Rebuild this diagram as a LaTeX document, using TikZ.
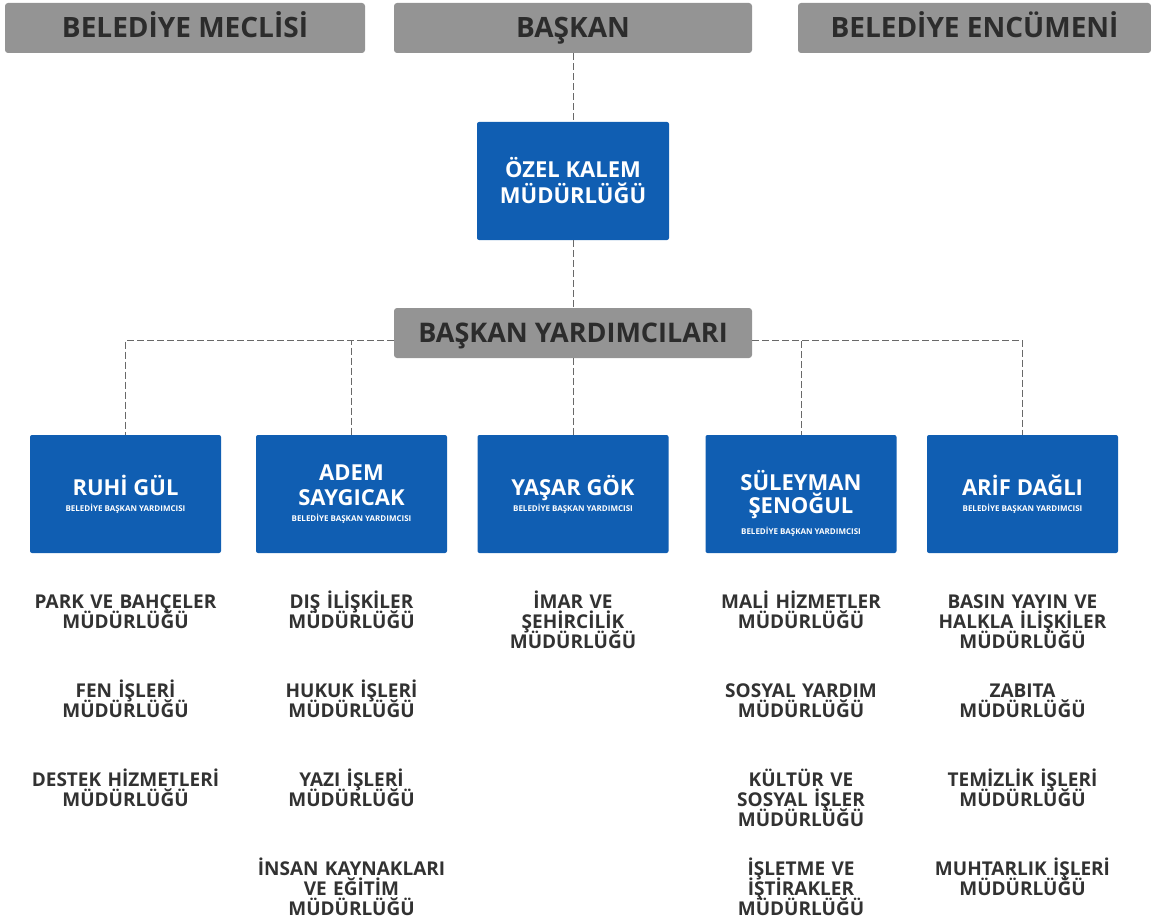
\documentclass[tikz,border=0pt]{standalone}
\usepackage{fontspec}
\setmainfont{Open Sans}
\usepackage{xcolor}
\usepackage{tikz}
\usetikzlibrary{positioning, calc}
\definecolor{BoxBlue}{RGB}{16,94,178}
\definecolor{BarGrey}{RGB}{148,148,148}
\definecolor{BarText}{RGB}{44,44,44}
\definecolor{UnitText}{RGB}{50,50,50}
\definecolor{LinkGrey}{RGB}{105,105,105}
% same first-line height and fixed line spacing for unit names
\newcommand{\unitstrut}{\lineskiplimit=-20pt\relax\vrule width 0pt height 19pt depth 0pt\relax}
\tikzset{
    topbar/.style={rectangle, rounded corners=3pt, fill=BarGrey, text=BarText,
        minimum height=50pt, inner sep=0pt, text height=20pt, text depth=0pt,
        font=\bfseries\fontsize{28}{30}\selectfont},
    deputybox/.style={rectangle, rounded corners=2pt, fill=BoxBlue, text=white,
        minimum width=191pt, minimum height=118pt, inner sep=0pt, align=center,
        font=\bfseries\fontsize{22}{25}\selectfont},
    unitlabel/.style={text width=220pt, align=center, inner sep=0pt, text=UnitText,
        font=\bfseries\fontsize{19}{20}\selectfont,
        execute at begin node=\unitstrut},
    orglink/.style={draw=LinkGrey, line width=0.9pt, dash pattern=on 7pt off 3pt},
}
\newcommand{\deputytitle}[1][-9pt]{\\[#1]\fontsize{8}{9}\selectfont BELEDİYE BAŞKAN YARDIMCISI}

\begin{document}
\begin{tikzpicture}[x=1pt, y=-1pt]
    \useasboundingbox (0,0) rectangle (1151,923);

    % top row
    \node[topbar, minimum width=360pt] (meclis) at (185,28) {BELEDİYE MECLİSİ};
    \node[topbar, minimum width=358pt] (baskan) at (573,28) {BAŞKAN};
    \node[topbar, minimum width=353pt] (encumen) at (974.5,28) {BELEDİYE ENCÜMENİ};

    \node[deputybox, minimum width=192pt, font=\bfseries\fontsize{22}{26}\selectfont] (ozel) at (573,181)
        {ÖZEL KALEM\\MÜDÜRLÜĞÜ};
    \node[topbar, minimum width=358pt, text height=19pt, font=\bfseries\fontsize{27}{29}\selectfont] (yrd) at (573,333)
        {BAŞKAN YARDIMCILARI};

    % deputies
    \node[deputybox] (ruhi) at (125.5,494) {RUHİ GÜL\deputytitle};
    \node[deputybox] (adem) at (351.5,494) {ADEM\\SAYGICAK\deputytitle};
    \node[deputybox] (yasar) at (573,494) {YAŞAR GÖK\deputytitle};
    \node[deputybox, text height=82pt, text depth=2pt] (suleyman) at (801,494)
        {SÜLEYMAN\\[-2pt]ŞENOĞUL\deputytitle[-4pt]};
    \node[deputybox] (arif) at (1022.5,494) {ARİF DAĞLI\deputytitle};

    % links
    \draw[orglink] (baskan) -- (ozel);
    \draw[orglink] (ozel) -- (yrd);
    \draw[orglink] (yrd) -- (yasar);
    \draw[orglink] ([yshift=-7pt]yrd.west) -| (ruhi.north);
    \draw[orglink] ([yshift=-7pt]yrd.west) -| (adem.north);
    \draw[orglink] ([yshift=-7pt]yrd.east) -| (suleyman.north);
    \draw[orglink] ([yshift=-7pt]yrd.east) -| (arif.north);

    % units under RUHİ GÜL
    \node[unitlabel, below=36.5pt of ruhi.south] (park) {PARK VE BAHÇELER\\MÜDÜRLÜĞÜ};
    \node[unitlabel, below=89pt of park.north] (fen) {FEN İŞLERİ\\MÜDÜRLÜĞÜ};
    \node[unitlabel, below=89pt of fen.north] (destek) {DESTEK HİZMETLERİ\\MÜDÜRLÜĞÜ};

    % units under ADEM SAYGICAK
    \node[unitlabel, below=36.5pt of adem.south] (dis) {DIŞ İLİŞKİLER\\MÜDÜRLÜĞÜ};
    \node[unitlabel, below=89pt of dis.north] (hukuk) {HUKUK İŞLERİ\\MÜDÜRLÜĞÜ};
    \node[unitlabel, below=89pt of hukuk.north] (yazi) {YAZI İŞLERİ\\MÜDÜRLÜĞÜ};
    \node[unitlabel, below=89pt of yazi.north] (insan) {İNSAN KAYNAKLARI\\VE EĞİTİM\\MÜDÜRLÜĞÜ};

    % units under YAŞAR GÖK
    \node[unitlabel, below=36.5pt of yasar.south] (imar) {İMAR VE\\ŞEHİRCİLİK\\MÜDÜRLÜĞÜ};

    % units under SÜLEYMAN ŞENOĞUL
    \node[unitlabel, below=36.5pt of suleyman.south] (mali) {MALİ HİZMETLER\\MÜDÜRLÜĞÜ};
    \node[unitlabel, below=89pt of mali.north] (sosyal) {SOSYAL YARDIM\\MÜDÜRLÜĞÜ};
    \node[unitlabel, below=89pt of sosyal.north] (kultur) {KÜLTÜR VE\\SOSYAL İŞLER\\MÜDÜRLÜĞÜ};
    \node[unitlabel, below=89pt of kultur.north] (isletme) {İŞLETME VE\\İŞTİRAKLER\\MÜDÜRLÜĞÜ};

    % units under ARİF DAĞLI
    \node[unitlabel, below=36.5pt of arif.south] (basin) {BASIN YAYIN VE\\HALKLA İLİŞKİLER\\MÜDÜRLÜĞÜ};
    \node[unitlabel, below=89pt of basin.north] (zabita) {ZABITA\\MÜDÜRLÜĞÜ};
    \node[unitlabel, below=89pt of zabita.north] (temizlik) {TEMİZLİK İŞLERİ\\MÜDÜRLÜĞÜ};
    \node[unitlabel, below=89pt of temizlik.north] (muhtarlik) {MUHTARLIK İŞLERİ\\MÜDÜRLÜĞÜ};
\end{tikzpicture}
\end{document}
